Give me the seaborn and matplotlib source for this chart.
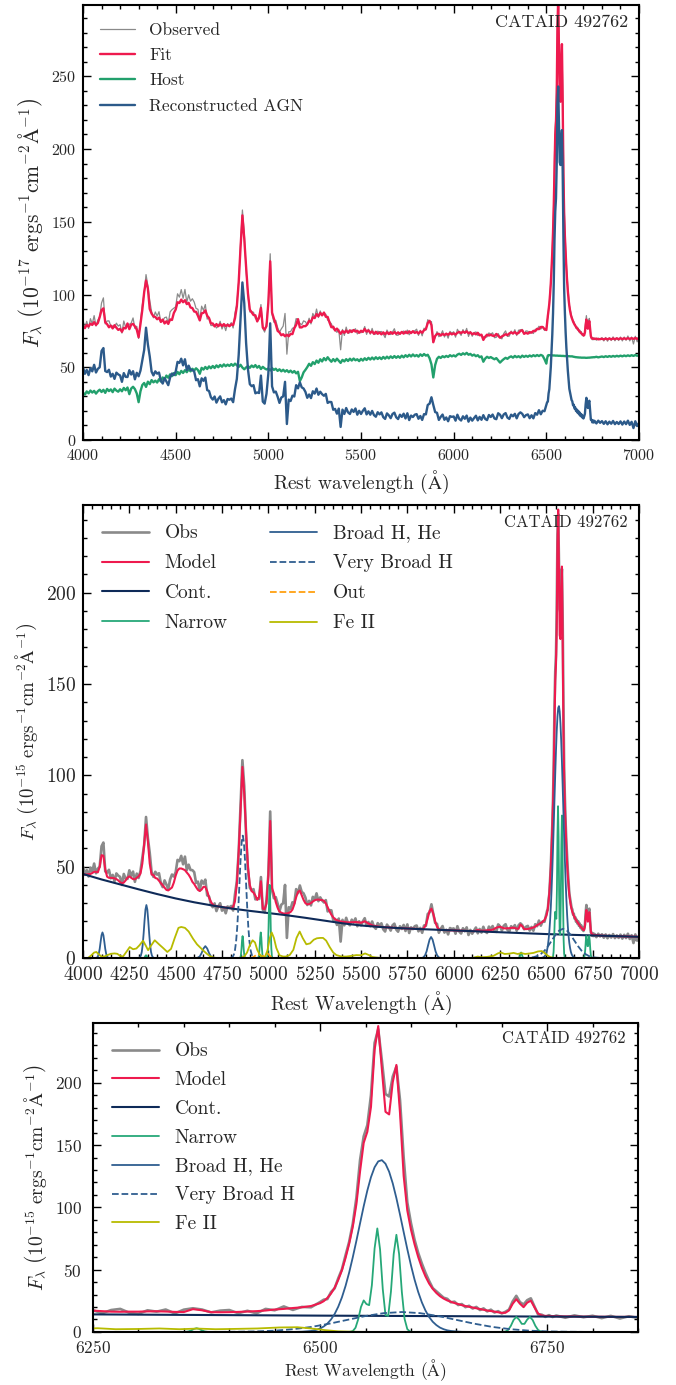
import numpy as np
import matplotlib.pyplot as plt
import seaborn as sns
from matplotlib.ticker import MultipleLocator

# ---------------------------------------------------------------
# wavelength grid (finer sampling across the H-alpha complex)
wave = np.concatenate([np.arange(4000, 6501, 10),
                       np.arange(6504, 6761, 4),
                       np.arange(6770, 7001, 10)])

# host galaxy (1e-17 units), one row per 100 A
host = [
    32.5, 31.2, 33.4, 32.1, 34.0, 32.6, 33.8, 31.9, 33.5, 34.6,
    33.0, 34.5, 32.4, 35.1, 33.6, 34.8, 32.9, 35.3, 34.0, 33.2,
    34.9, 33.5, 35.8, 34.2, 36.1, 31.5, 35.4, 36.6, 35.0, 32.0,
    26.0, 33.5, 37.8, 39.2, 36.5, 40.1, 38.4, 41.2, 39.6, 40.8,
    39.5, 41.8, 40.2, 43.0, 41.6, 44.3, 42.8, 45.1, 43.9, 46.0,
    44.6, 46.8, 45.2, 47.5, 46.1, 48.0, 46.6, 48.7, 47.2, 49.0,
    47.8, 49.3, 48.1, 45.5, 49.6, 48.4, 50.2, 48.8, 50.6, 49.3,
    50.9, 49.5, 51.3, 50.0, 51.6, 50.4, 52.0, 50.7, 51.8, 50.9,
    52.2, 51.0, 52.5, 51.3, 50.2, 51.7, 49.8, 48.6, 49.9, 50.8,
    49.6, 51.2, 50.1, 51.5, 49.7, 50.9, 48.8, 50.3, 49.2, 48.5,
    49.1, 47.8, 49.4, 48.2, 49.0, 47.5, 48.6, 47.2, 48.3, 47.0,
    48.0, 46.6, 47.7, 46.3, 47.4, 45.8, 46.9, 40.5, 43.0, 46.5,
    48.2, 50.1, 52.4, 51.0, 53.5, 52.2, 54.6, 53.1, 55.5, 54.0,
    56.3, 54.8, 56.9, 55.2, 53.8, 55.6, 54.1, 55.9, 54.5, 53.0,
    55.1, 54.0, 55.6, 54.3, 55.9, 54.6, 56.0, 54.8, 55.5, 54.2,
    55.8, 54.6, 56.2, 55.0, 56.5, 55.3, 56.7, 55.4, 56.9, 55.7,
    56.8, 55.6, 57.1, 55.9, 57.3, 56.1, 57.5, 56.4, 57.7, 56.5,
    57.6, 56.5, 58.0, 56.8, 58.3, 57.2, 58.6, 57.4, 58.8, 57.6,
    58.4, 57.3, 58.9, 57.8, 59.1, 58.0, 58.6, 56.2, 52.0, 43.0,
    51.5, 55.8, 57.2, 56.4, 57.6, 56.9, 57.8, 57.1, 58.3, 57.5,
    58.2, 57.4, 58.7, 59.3, 58.5, 59.6, 58.8, 59.9, 58.6, 59.2,
    58.0, 58.7, 57.6, 58.3, 56.9, 57.5, 53.8, 56.0, 57.2, 56.4,
    57.0, 56.2, 55.5, 56.3, 54.8, 53.2, 54.5, 55.6, 56.5, 55.8,
    56.9, 57.5, 56.6, 57.8, 56.9, 57.6, 56.7, 58.0, 57.1, 57.9,
    57.2, 58.1, 57.4, 58.3, 57.6, 58.4, 57.7, 58.5, 57.9, 55.5,
    52.5,
    # 6504 - 6760 (4 A steps)
    56.0, 58.0, 58.4, 58.3, 58.3, 58.2, 58.2, 58.2,
    58.1, 58.1, 58.1, 58.0, 58.0, 58.0, 58.0, 57.9,
    57.9, 57.9, 57.9, 57.8, 57.8, 57.8, 57.8, 57.7,
    57.7, 57.7, 57.7, 57.6, 57.6, 57.6, 57.6, 57.5,
    57.5, 57.5, 57.5, 57.3, 57.2, 57.1, 57.0, 56.9,
    56.9, 56.8, 56.8, 56.7, 56.7, 56.7, 56.6, 56.6,
    56.6, 56.6, 56.6, 56.6, 56.5, 56.5, 56.5, 56.6,
    56.6, 56.6, 56.7, 56.7, 56.8, 56.8, 56.9, 56.9,
    56.9,
    # 6770 - 7000
    57.2, 56.8, 57.1,
    57.4, 57.0, 57.6, 57.1, 57.7, 57.2, 57.8, 57.3, 57.9, 57.4,
    58.0, 57.5, 58.1, 57.6, 58.2, 57.7, 58.3, 57.8, 58.4, 57.9,
    58.3,
]

# host-subtracted AGN spectrum (reconstructed AGN / Obs in the fit panels)
agn = [
    50.0, 45.5, 48.2, 44.6, 49.4, 47.2, 51.7, 46.4, 48.9, 50.0,
    61.2, 63.2, 47.4, 46.7, 48.3, 43.6, 45.5, 42.0, 46.3, 45.1,
    44.4, 40.0, 46.0, 43.4, 43.3, 48.0, 45.0, 47.3, 41.7, 46.2,
    43.8, 47.7, 55.0, 61.9, 77.2, 65.7, 57.5, 47.0, 44.4, 47.2,
    45.6, 46.4, 40.9, 38.8, 42.5, 40.2, 37.7, 43.0, 45.7, 44.6,
    47.0, 53.7, 53.0, 55.9, 51.3, 55.5, 48.1, 51.1, 48.2, 48.1,
    47.0, 41.1, 41.8, 36.9, 42.4, 40.7, 42.9, 34.3, 33.7, 29.4,
    27.8, 29.9, 25.7, 28.3, 30.0, 25.9, 27.4, 24.5, 28.2, 27.7,
    28.5, 26.0, 34.9, 42.0, 58.5, 83.2, 108.3, 94.0, 66.6, 48.6,
    38.4, 37.0, 37.7, 32.1, 32.7, 32.3, 44.3, 26.4, 25.0, 31.8,
    45.7, 80.2, 36.9, 32.7, 33.3, 29.8, 25.5, 29.2, 30.0, 40.0,
    11.0, 27.8, 26.8, 30.5, 29.9, 37.7, 35.5, 39.7, 36.2, 35.4,
    33.1, 29.0, 31.3, 28.8, 33.5, 31.9, 35.4, 31.1, 33.2, 31.5,
    30.4, 31.7, 25.5, 26.2, 26.1, 20.8, 21.4, 18.1, 21.6, 9.0,
    20.9, 17.9, 22.0, 19.0, 17.9, 21.0, 19.3, 21.7, 17.4, 20.1,
    17.9, 20.1, 21.8, 17.6, 19.7, 17.4, 20.0, 17.1, 16.0, 19.1,
    17.6, 19.0, 15.7, 14.5, 18.3, 17.0, 15.0, 17.9, 18.8, 15.6,
    14.4, 17.4, 15.9, 18.1, 14.8, 18.4, 13.7, 16.8, 15.8, 17.4,
    17.8, 14.6, 16.5, 13.8, 17.8, 17.6, 24.1, 25.0, 29.4, 24.1,
    19.2, 18.7, 13.8, 15.9, 17.5, 13.9, 15.5, 12.9, 16.4, 15.9,
    16.2, 13.3, 17.4, 14.5, 13.4, 16.3, 14.6, 16.8, 12.6, 15.4,
    13.3, 15.1, 16.7, 13.5, 15.9, 13.9, 17.1, 14.5, 13.7, 17.2,
    15.8, 17.5, 14.8, 14.3, 18.4, 17.4, 15.0, 17.6, 18.5, 15.4,
    14.5, 17.4, 16.3, 18.0, 14.9, 17.9, 19.0, 18.0, 15.7, 17.1,
    17.6, 15.0, 17.0, 14.9, 18.5, 17.4, 20.5, 17.7, 20.1, 19.8,
    24.0,
    25.9, 26.4, 32.0, 35.0, 43.1, 50.2, 61.5, 72.4,
    87.0, 108.0, 138.0, 157.0, 166.0, 190.0, 232.0, 243.0,
    218.0, 191.0, 189.0, 205.0, 213.0, 186.0, 140.0, 104.0,
    87.5, 74.0, 63.5, 55.0, 47.5, 41.0, 35.2, 32.6,
    30.1, 27.5, 26.6, 23.8, 24.3, 21.6, 22.4, 19.9,
    21.0, 18.8, 20.1, 17.6, 18.9, 16.5, 17.9, 15.6,
    16.7, 14.8, 16.2, 18.0, 24.5, 29.0, 24.0, 22.0,
    25.5, 27.0, 20.5, 14.0, 13.9, 12.1, 13.5, 12.0,
    13.2,
    11.4, 13.3, 11.8,
    13.0, 11.1, 12.9, 10.8, 12.6, 11.2, 13.1, 10.9, 12.4, 11.0,
    12.8, 10.6, 12.7, 10.9, 13.3, 10.4, 12.5, 8.2, 12.9, 9.6,
    11.8,
]

# total AGN model
model = [
    46.0, 45.7, 45.7, 45.9, 46.0, 46.5, 47.2, 47.2, 46.9, 49.9,
    56.3, 56.0, 48.5, 44.5, 43.9, 43.9, 43.8, 43.6, 43.2, 42.5,
    41.5, 40.9, 41.3, 42.5, 44.0, 44.7, 43.9, 43.2, 43.1, 43.9,
    44.7, 46.2, 51.7, 62.4, 73.1, 64.0, 51.7, 45.7, 45.4, 43.8,
    43.5, 42.3, 41.0, 39.8, 38.5, 37.3, 37.0, 37.8, 38.6, 41.3,
    45.1, 47.9, 49.0, 49.0, 48.6, 48.1, 46.8, 45.6, 43.9, 41.7,
    40.5, 38.8, 37.3, 36.7, 37.5, 39.0, 38.9, 36.6, 33.2, 30.8,
    29.2, 28.6, 28.4, 28.2, 28.1, 27.9, 27.7, 27.6, 27.4, 27.3,
    27.3, 28.0, 31.2, 40.5, 58.3, 80.7, 104.6, 89.8, 69.0, 49.9,
    40.0, 36.6, 35.8, 34.2, 31.8, 33.4, 42.0, 27.0, 26.7, 29.8,
    45.2, 75.0, 38.2, 35.2, 30.6, 27.5, 25.4, 24.8, 24.4, 24.3,
    24.4, 24.7, 25.2, 26.5, 29.4, 33.3, 36.2, 36.9, 34.4, 31.8,
    30.0, 29.4, 29.5, 30.1, 30.9, 31.6, 31.9, 32.0, 31.8, 31.7,
    31.3, 29.9, 27.7, 25.6, 23.7, 22.3, 21.2, 20.7, 20.3, 20.0,
    19.8, 19.7, 19.6, 19.5, 19.5, 19.6, 19.6, 19.7, 19.6, 19.5,
    19.3, 19.7, 20.1, 19.5, 18.9, 18.4, 17.9, 17.6, 17.5, 17.3,
    17.1, 17.0, 16.9, 16.8, 16.8, 16.7, 16.7, 16.6, 16.5, 16.5,
    16.4, 16.4, 16.3, 16.3, 16.2, 16.2, 16.1, 16.1, 16.0, 16.0,
    15.9, 15.9, 15.8, 15.9, 16.4, 18.2, 21.8, 25.7, 27.0, 24.2,
    20.0, 17.1, 15.8, 15.4, 15.3, 15.3, 15.3, 15.2, 15.2, 15.1,
    15.1, 15.1, 15.0, 15.0, 15.0, 14.9, 14.9, 14.8, 14.8, 14.8,
    14.7, 14.7, 15.0, 15.4, 15.1, 14.9, 15.0, 15.0, 15.2, 15.4,
    15.3, 15.5, 16.0, 16.6, 16.9, 17.1, 16.7, 16.3, 16.2, 16.3,
    16.3, 16.5, 16.6, 16.4, 16.1, 16.0, 18.3, 17.4, 15.9, 15.8,
    15.9, 16.1, 16.4, 16.7, 17.2, 18.0, 18.5, 19.2, 19.8, 20.8,
    23.1,
    24.7, 27.3, 30.8, 35.5, 41.8, 49.5, 59.4, 70.8,
    84.5, 102.8, 129.0, 151.8, 160.7, 180.6, 226.5, 245.5,
    210.8, 176.7, 174.6, 200.6, 214.3, 175.7, 125.3, 97.6,
    82.3, 70.4, 60.2, 51.6, 44.6, 38.9, 34.6, 31.3,
    28.7, 26.8, 25.3, 24.2, 23.2, 22.4, 21.5, 20.8,
    20.2, 19.6, 19.0, 18.4, 17.8, 17.2, 16.8, 16.3,
    15.8, 15.3, 15.4, 17.3, 22.6, 26.3, 22.7, 19.9,
    23.5, 25.1, 19.8, 14.8, 13.2, 12.9, 12.8, 12.7,
    12.6,
    12.5, 12.4, 12.3,
    12.2, 12.2, 12.1, 12.1, 12.1, 12.0, 12.0, 12.0, 12.0, 11.9,
    11.9, 11.9, 11.8, 11.8, 11.8, 11.8, 11.7, 11.7, 11.7, 11.6,
    11.6,
]

# model components
cont_wl = list(range(4000, 7001, 100))
cont = [46.0, 43.0, 40.3, 37.6, 35.0, 32.6, 30.5, 28.7, 27.1, 25.8, 24.6,
        23.4, 22.0, 20.5, 19.0, 17.8, 17.0, 16.4, 15.9, 15.5, 15.1, 14.7,
        14.3, 13.9, 13.5, 13.1, 12.8, 12.5, 12.2, 11.9, 11.6]

narrow_wl = ([4325, 4328, 4331, 4334, 4337, 4340, 4343, 4346, 4349, 4352, 4355,
              4846, 4849, 4852, 4855, 4858, 4861, 4864, 4867, 4870, 4873, 4876,
              4944, 4947, 4950, 4953, 4956, 4959, 4962, 4965, 4968, 4971, 4974,
              4992, 4995, 4998, 5001, 5004, 5007, 5010, 5013, 5016, 5019, 5022,
              6349, 6352, 6355, 6358, 6361, 6364, 6367, 6370, 6373, 6376, 6379]
             + list(range(6530, 6603, 3)) + list(range(6698, 6750, 3)))
narrow = [0, 0.04, 0.2, 0.6, 1.2, 1.5, 1.2, 0.6, 0.2, 0.04, 0,
          0, 0.35, 1.6, 4.9, 9.6, 12, 9.6, 4.9, 1.6, 0.35, 0,
          0, 0.4, 1.9, 5.8, 11.2, 14, 11.2, 5.8, 1.9, 0.4, 0,
          0, 1.2, 5.4, 16.4, 32, 40, 32, 16.4, 5.4, 1.2, 0,
          0, 0.1, 0.4, 1.2, 2.4, 3, 2.4, 1.2, 0.4, 0.1, 0,
          0, 0.1, 0.7, 3.4, 10.3, 20.0, 25.3, 22.4, 21.5, 37.5, 67.1, 83.1, 66.4,
          34.4, 13.5, 12.9, 32.4, 62.4, 78.0, 62.4, 32.1, 10.5, 2.3, 0.3, 0,
          0, 0.05, 0.35, 1.6, 4.9, 9.6, 12.05, 9.95, 6.5, 6.5, 9.95, 12.05,
          9.6, 4.9, 1.6, 0.35, 0.05, 0]

broad_wl = ([4070, 4075, 4080, 4085, 4090, 4095, 4100, 4105, 4110, 4115, 4120,
             4125, 4130, 4135, 4140,
             4302, 4307, 4312, 4317, 4322, 4327, 4332, 4337, 4342, 4347, 4352,
             4357, 4362, 4367, 4372, 4377, 4382,
             4610, 4620, 4630, 4640, 4650, 4660, 4670, 4680, 4690, 4700, 4710,
             5830, 5838, 5846, 5854, 5862, 5870, 5878, 5886, 5894, 5902, 5910,
             5918, 5926,
             6470, 6480, 6490, 6496, 6500] + list(range(6504, 6649, 4)) + [6656, 6670])
broad = [0, 0.2, 0.8, 2.3, 5.0, 8.9, 12.5, 14.0, 12.5, 8.9, 5.0, 2.3, 0.8, 0.2, 0,
         0, 0.4, 1.3, 3.3, 7.2, 13.3, 20.5, 26.6, 29.0, 26.6, 20.5, 13.3, 7.2,
         3.3, 1.3, 0.4, 0,
         0, 0.2, 0.9, 2.7, 5.2, 6.5, 5.2, 2.7, 0.9, 0.2, 0,
         0, 0.5, 1.6, 3.7, 7.0, 10.1, 11.5, 10.1, 7.0, 3.7, 1.6, 0.5, 0,
         0, 0.2, 0.8, 1.7, 2.8,
         4.4, 6.7, 10.0, 14.4, 20.3, 27.7, 36.9, 47.7, 60.0, 73.3, 87.2, 100.9,
         113.5, 124.2, 132.2, 136.9, 137.9, 135.0, 128.6, 119.2, 107.4, 94.1,
         80.2, 66.5, 53.6, 42.0, 32.1, 23.8, 17.2, 12.0, 8.2, 5.5, 3.5, 2.2,
         1.3, 0.8, 0.5,
         0.1, 0]

vbroad_wl = [4792, 4800, 4808, 4814, 4820, 4826, 4832, 4838, 4844, 4850, 4856,
             4862, 4868, 4874, 4880, 4886, 4892, 4898, 4904, 4910, 4916, 4924,
             4932] + list(range(6390, 6791, 20))
vbroad = [0, 0.18, 0.74, 1.9, 4.4, 9.1, 16.7, 27.5, 40.6, 53.6, 63.4, 67.0,
          63.4, 53.6, 40.6, 27.5, 16.7, 9.1, 4.4, 1.9, 0.74, 0.18, 0,
          0.05, 0.18, 0.46, 1.05, 2.2, 4.0, 6.6, 9.7, 12.8, 15.1, 16.0, 15.1,
          12.8, 9.7, 6.6, 4.0, 2.2, 1.05, 0.46, 0.18, 0.05]

out_wl = [4900, 4915, 4925, 4935, 4945, 4955, 4965, 4975, 4985, 4995, 5005, 5020]
out = [0, 0.3, 0.9, 1.8, 2.2, 1.6, 0.9, 1.2, 2.3, 2.6, 1.6, 0]

feii_wl = [4000, 4027, 4045, 4060, 4072, 4085, 4100, 4115, 4130, 4150, 4170,
           4185, 4200, 4216, 4235, 4252, 4270, 4288, 4305, 4324, 4340, 4351,
           4365, 4387, 4410, 4432, 4455, 4475, 4495, 4515, 4530, 4550, 4570,
           4594, 4615, 4635, 4650, 4666, 4685, 4702, 4720, 4850, 4870, 4885,
           4900, 4915, 4928, 4940, 4953, 4965, 4980, 4995, 5008, 5018, 5030,
           5043, 5060, 5079, 5095, 5115, 5135, 5152, 5169, 5185, 5205, 5225,
           5245, 5262, 5280, 5295, 5312, 5331, 5350, 5367, 5395, 5421, 5450,
           5475, 5500, 5522, 5545, 5560, 5580, 5610, 6100, 6130, 6150, 6180,
           6215, 6240, 6255, 6275, 6300, 6323, 6345, 6365, 6385, 6410, 6431,
           6455, 6475, 6490, 6505, 6520, 6540, 6560]
feii = [0, 0, 1.5, 3.0, 3.3, 2.0, 0.8, 0.8, 1.5, 2.3, 2.5, 2.3, 1.2, 0.8, 3.5,
        6.0, 4.8, 5.2, 7.0, 9.5, 6.5, 4.3, 6.5, 9.7, 7.5, 5.5, 3.3, 5.0, 11.0,
        16.5, 17.0, 16.5, 14.5, 10.5, 7.5, 5.5, 4.0, 2.5, 1.0, 0.3, 0, 0, 0.8,
        3.0, 7.0, 9.7, 8.5, 4.5, 2.0, 0.5, 0.3, 4.0, 11.0, 14.0, 11.0, 5.5, 1.5,
        0.8, 0.8, 1.6, 4.5, 11.0, 14.5, 11.0, 7.5, 8.0, 10.0, 10.8, 11.0, 11.0,
        9.5, 6.0, 3.0, 1.6, 0.8, 0.8, 1.2, 1.6, 1.5, 2.5, 1.5, 0.6, 0.3, 0, 0,
        0.8, 0.4, 0.6, 1.2, 2.6, 3.0, 2.2, 2.4, 2.8, 2.2, 2.7, 2.2, 2.5, 2.8,
        3.6, 3.8, 2.8, 1.5, 0.5, 0.1, 0]

# observed = host + AGN, fit = host + AGN model
obs_total = np.array(host) + np.array(agn)
fit_total = np.array(host) + np.array(model)

# colours
c_obs = "#8a8a8a"
c_fit = "#ee1a4e"
c_host = "#22a06c"
c_agn = "#2c5a8a"
c_cont = "#0e2a58"
c_narrow = "#26a878"
c_broad = "#2f5e90"
c_out = "#ffa010"
c_feii = "#b7bb00"

# ---------------------------------------------------------------
sns.set_style("ticks")
plt.rcParams["font.family"] = "serif"
plt.rcParams["font.serif"] = ["cmr10", "DejaVu Serif"]
plt.rcParams["mathtext.fontset"] = "cm"
plt.rcParams["axes.formatter.use_mathtext"] = True
plt.rcParams["axes.unicode_minus"] = False

fig = plt.figure(figsize=(6.76, 13.85), dpi=100)
ax1 = fig.add_axes([0.1228, 0.6823, 0.8225, 0.3141])
ax2 = fig.add_axes([0.1228, 0.3083, 0.8225, 0.3271])
ax3 = fig.add_axes([0.1376, 0.0383, 0.8062, 0.2231])


def style_axis(ax, xmaj, xmin, ymaj, ymin, fs, xpad=6, ypad=5):
    ax.xaxis.set_major_locator(MultipleLocator(xmaj))
    ax.xaxis.set_minor_locator(MultipleLocator(xmin))
    ax.yaxis.set_major_locator(MultipleLocator(ymaj))
    ax.yaxis.set_minor_locator(MultipleLocator(ymin))
    ax.tick_params(which="both", direction="in", top=True, right=True,
                   width=1.0, labelsize=fs, color="black")
    ax.tick_params(which="major", length=6)
    ax.tick_params(which="minor", length=3)
    ax.tick_params(axis="x", pad=xpad)
    ax.tick_params(axis="y", pad=ypad)
    for s in ax.spines.values():
        s.set_linewidth(1.5)
        s.set_color("black")


ylab17 = r"$F_{\lambda}\ \left(10^{-17}\ \mathrm{ergs^{-1}cm^{-2}\AA^{-1}}\right)$"
ylab15 = r"$F_{\lambda}\ \left(10^{-15}\ \mathrm{ergs^{-1}cm^{-2}\AA^{-1}}\right)$"

# --- panel 1: decomposition -----------------------------------
sns.lineplot(x=wave, y=obs_total, ax=ax1, color=c_obs, lw=0.9, label="Observed")
sns.lineplot(x=wave, y=fit_total, ax=ax1, color=c_fit, lw=1.7, label="Fit")
sns.lineplot(x=wave, y=host, ax=ax1, color=c_host, lw=1.7, label="Host")
sns.lineplot(x=wave, y=agn, ax=ax1, color=c_agn, lw=1.7, label="Reconstructed AGN")
ax1.set_xlim(4000, 7000)
ax1.set_ylim(0, 299)
style_axis(ax1, 500, 100, 50, 10, 11.5)
ax1.set_xlabel(r"Rest wavelength $(\mathrm{\AA})$", fontsize=14)
ax1.set_ylabel(ylab17, fontsize=15.5)
ax1.legend(loc="upper left", frameon=False, fontsize=12.5, handlelength=2.0,
           labelspacing=0.58, borderaxespad=0.6)
ax1.text(0.98, 0.978, "CATAID 492762", transform=ax1.transAxes,
         ha="right", va="top", fontsize=13)

# --- panel 2: AGN fit ------------------------------------------
def draw_fit(ax, with_out):
    sns.lineplot(x=wave, y=agn, ax=ax, color=c_obs, lw=1.9, label="Obs")
    sns.lineplot(x=wave, y=model, ax=ax, color=c_fit, lw=1.5, label="Model")
    sns.lineplot(x=cont_wl, y=cont, ax=ax, color=c_cont, lw=1.5, label="Cont.")
    sns.lineplot(x=narrow_wl, y=narrow, ax=ax, color=c_narrow, lw=1.3, label="Narrow")
    sns.lineplot(x=broad_wl, y=broad, ax=ax, color=c_broad, lw=1.3, label="Broad H, He")
    sns.lineplot(x=vbroad_wl, y=vbroad, ax=ax, color=c_broad, lw=1.3, ls="--",
                 label="Very Broad H")
    if with_out:
        sns.lineplot(x=out_wl, y=out, ax=ax, color=c_out, lw=1.3, ls="--", label="Out")
    sns.lineplot(x=feii_wl, y=feii, ax=ax, color=c_feii, lw=1.3, label="Fe II")


draw_fit(ax2, True)
ax2.set_xlim(4000, 7000)
ax2.set_ylim(0, 248)
style_axis(ax2, 250, 50, 50, 10, 14)
ax2.set_xlabel(r"Rest Wavelength $(\mathrm{\AA})$", fontsize=14)
ax2.set_ylabel(ylab15, fontsize=13.5)
ax2.legend(loc="upper left", frameon=False, fontsize=14, ncol=2,
           columnspacing=2.2, handlelength=2.4, labelspacing=0.62,
           borderaxespad=0.6)
ax2.text(0.98, 0.978, "CATAID 492762", transform=ax2.transAxes,
         ha="right", va="top", fontsize=12)

# --- panel 3: H-alpha zoom -------------------------------------
draw_fit(ax3, False)
ax3.set_xlim(6250, 6850)
ax3.set_ylim(0, 248)
style_axis(ax3, 250, 50, 50, 10, 12.5, xpad=5, ypad=8)
ax3.set_xlabel(r"Rest Wavelength $(\mathrm{\AA})$", fontsize=12.5, labelpad=1)
ax3.set_ylabel(ylab15, fontsize=14)
ax3.legend(loc="upper left", frameon=False, fontsize=14, handlelength=2.4,
           labelspacing=0.56, borderaxespad=0.6)
ax3.text(0.978, 0.975, "CATAID 492762", transform=ax3.transAxes,
         ha="right", va="top", fontsize=12)

fig.savefig("out.png", dpi=100)
